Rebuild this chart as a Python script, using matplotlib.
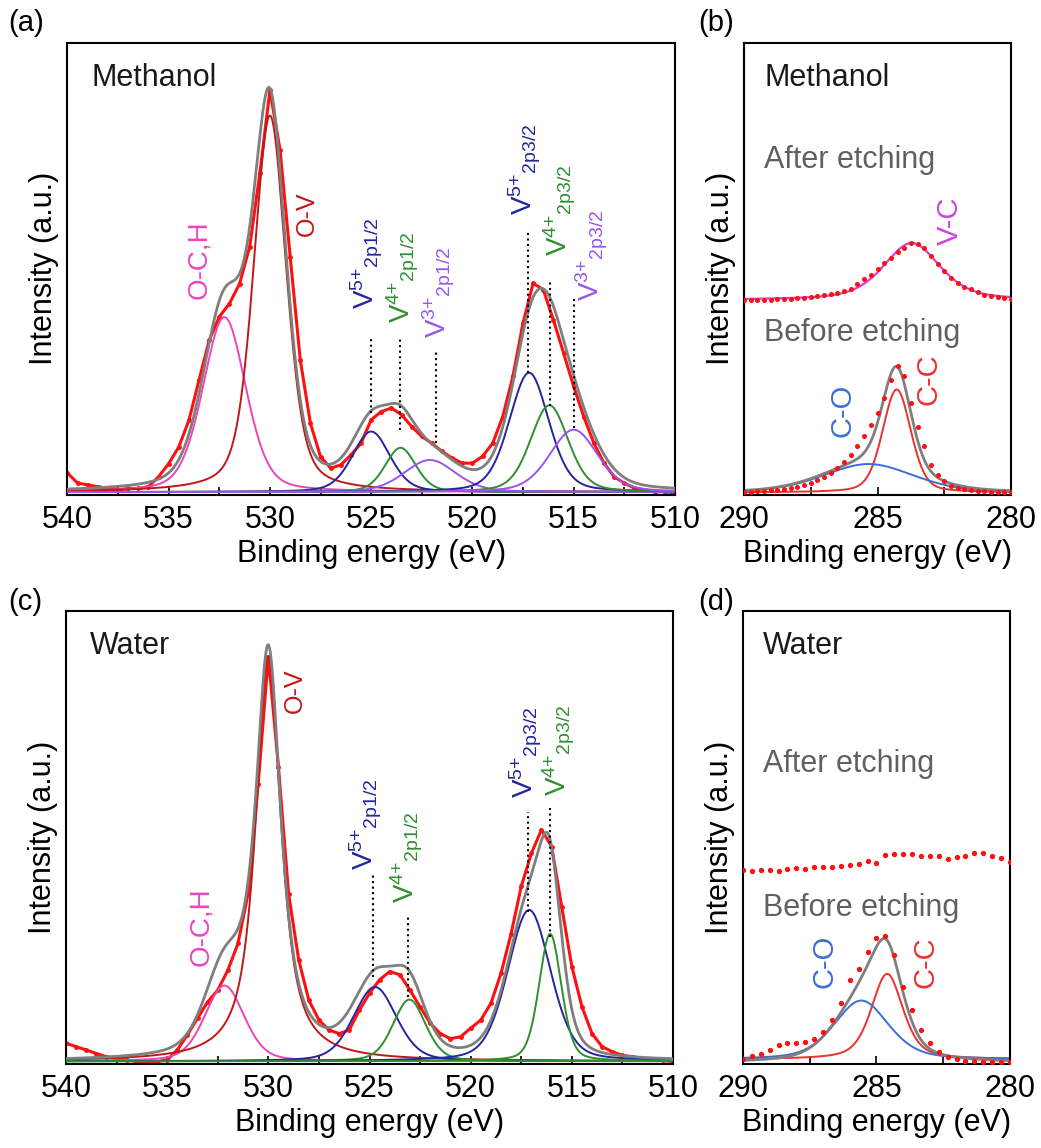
import matplotlib
matplotlib.use("Agg")
import matplotlib.pyplot as plt
import numpy as np

plt.rcParams['font.family'] = ['Liberation Sans', 'DejaVu Sans']
plt.rcParams['mathtext.default'] = 'regular'

PINK = '#EE44BB'
DARKRED = '#C01818'
BLUE = '#2424A0'
GREEN = '#2F8F2F'
PURPLE = '#9955EE'
GRAY = '#7F7F7F'
RED = '#FF1010'
CBLUE = '#3A6FD8'
CRED = '#EE3030'
VC = '#CC44DD'
TXTGRAY = '#606060'

# ---------------- (a) Methanol, O 1s / V 2p ----------------
a_energy = np.linspace(540, 510, 61)
a_counts = [4.8, 2.6, 2.2, 1.8, 1.4, 1.1, 1.4, 1.4, 1.8, 4.0,
            6.9, 10.6, 16.5, 25.4, 34.2, 39.4, 42.3, 46.7, 54.9, 71.1,
            89.5, 76.3, 52.7, 29.8, 15.8, 8.4, 5.9, 6.6, 8.8, 11.4,
            16.6, 18.4, 19.2, 17.7, 15.1, 12.9, 11.4, 9.6, 8.1, 7.0,
            7.0, 8.5, 11.4, 17.3, 26.2, 38.0, 46.8, 45.4, 38.7, 31.4,
            24.0, 17.3, 11.4, 7.0, 4.0, 2.6, 1.5, 1.1, 0.7, 0.7, 0.4]
# fitted components: O-C,H  O-V  V5+ V4+ V3+ (2p1/2)  V5+ V4+ V3+ (2p3/2)
a_center = [532.25, 530.0, 525.0, 523.55, 522.1, 517.2, 516.2, 515.0]
a_height = [38.7, 83.3, 13.4, 9.8, 7.1, 26.4, 19.2, 13.8]
a_fwhm = [2.5, 1.9, 2.2, 1.8, 3.0, 2.3, 2.2, 2.8]
a_eta = [0.3, 0.4, 0.3, 0.3, 0.3, 0.3, 0.3, 0.3]
a_color = [PINK, DARKRED, BLUE, GREEN, PURPLE, BLUE, GREEN, PURPLE]
a_marks_x = [525.0, 523.6, 521.8, 517.27, 516.15, 515.0]
a_marks_lo = [18.1, 14.4, 11.4, 26.9, 19.6, 14.7]
a_marks_hi = [35.0, 35.0, 32.1, 58.2, 47.6, 43.9]

# ---------------- (c) Water, O 1s / V 2p ----------------
c_energy = np.linspace(540, 510, 61)
c_counts = [4.6, 3.8, 3.1, 2.3, 1.6, 1.2, 0.9, 0.5, 0.5, 0.5,
            0.9, 3.1, 6.4, 10.1, 13.7, 16.3, 20.7, 26.6, 37.6, 61.9,
            89.9, 65.6, 37.6, 23.0, 14.1, 9.7, 7.5, 6.7, 7.5, 11.9,
            15.6, 18.6, 20.4, 19.7, 16.3, 12.6, 9.0, 6.7, 5.6, 6.0,
            7.9, 9.7, 13.4, 20.0, 28.8, 39.2, 46.5, 51.7, 48.0, 34.7,
            21.5, 12.6, 6.7, 3.8, 2.7, 1.9, 1.6, 1.2, 1.0, 0.8, 0.5]
# O-C,H  O-V  V5+ V4+ (2p1/2)  V5+ V4+ (2p3/2)
c_center = [532.17, 530.0, 524.73, 523.03, 517.11, 516.07]
c_height = [16.7, 89.4, 16.4, 13.6, 33.4, 28.1]
c_fwhm = [2.3, 1.5, 2.5, 1.9, 2.5, 1.3]
c_eta = [0.3, 0.85, 0.3, 0.3, 0.3, 0.3]
c_color = [PINK, DARKRED, BLUE, GREEN, BLUE, GREEN]
c_marks_x = [524.84, 523.08, 517.18, 516.07]
c_marks_lo = [19.3, 14.8, 33.6, 28.1]
c_marks_hi = [42.1, 32.9, 55.7, 56.4]

# ---------------- (b) Methanol, C 1s ----------------
b_energy = np.linspace(290, 280, 41)
b_after = [43.0, 43.0, 43.1, 43.1, 43.2, 43.3, 43.3, 43.4, 43.5, 43.6,
           43.8, 43.9, 44.1, 44.4, 44.7, 45.1, 45.6, 46.6, 47.7, 48.7,
           49.9, 51.2, 52.5, 53.8, 54.7, 55.7, 55.5, 54.5, 52.9, 51.0,
           49.5, 48.0, 46.9, 46.0, 45.5, 44.8, 44.3, 44.0, 43.8, 43.6, 43.4]
b_before = [0.7, 0.7, 0.8, 0.9, 1.0, 1.1, 1.3, 1.5, 1.7, 2.1,
            2.6, 3.2, 4.0, 4.9, 5.9, 7.3, 8.9, 10.8, 12.9, 15.4,
            18.1, 21.4, 25.5, 28.4, 26.2, 20.3, 15.1, 10.7, 6.7, 4.4,
            3.0, 2.0, 1.5, 1.2, 1.0, 0.9, 0.8, 0.7, 0.7, 0.7, 0.7]
b_vc = [283.72, 12.6, 2.5, 0.5]          # center, height, fwhm, eta
b_vc_base = 43.1
# C-C, C-O
b_center = [284.28, 285.34]
b_height = [22.8, 6.3]
b_fwhm = [1.25, 4.0]
b_eta = [0.3, 0.3]
b_color = [CRED, CBLUE]
b_base = 0.5

# ---------------- (d) Water, C 1s ----------------
d_energy = np.linspace(290, 280, 31)
d_after = [42.8, 42.6, 42.9, 42.8, 42.7, 43.0, 43.2, 43.1, 43.4, 43.5,
           43.4, 43.8, 43.9, 44.1, 44.7, 44.4, 46.2, 46.4, 46.3, 46.3,
           46.0, 45.9, 45.8, 45.3, 45.7, 46.0, 46.5, 46.6, 45.8, 45.4, 44.5]
d_before = [1.0, 1.7, 2.3, 3.0, 4.2, 4.6, 4.6, 4.9, 5.6, 7.0,
            9.6, 13.5, 18.5, 21.0, 24.8, 27.8, 28.3, 24.0, 17.0, 12.0,
            7.5, 4.6, 2.6, 1.5, 1.0, 0.7, 0.6, 0.5, 0.4, 0.4, 0.5]
d_center = [284.6, 285.57]
d_height = [18.9, 13.0]
d_fwhm = [1.4, 2.4]
d_eta = [0.5, 0.4]
d_color = [CRED, CBLUE]
d_base = 1.0
d_env_base = 0.3


def pv(x, c, h, w, eta):
    u = ((x - c) / w) ** 2
    return h * (eta / (1 + 4 * u) + (1 - eta) * np.exp(-4 * np.log(2) * u))


def style_axis(ax, lo, hi, major, minor):
    ax.set_xlim(lo, hi)
    ax.set_ylim(0, 100)
    ax.set_xticks(major)
    ax.set_xticks(minor, minor=True)
    ax.set_yticks([])
    ax.tick_params(axis='x', which='both', direction='in', length=6, width=1.2,
                   labelsize=22, pad=7, top=False)
    for s in ax.spines.values():
        s.set_linewidth(1.5)
    ax.set_xlabel('Binding energy (eV)', fontsize=22, labelpad=3)
    ax.set_ylabel('Intensity (a.u.)', fontsize=22, labelpad=6)


def vlabel(ax, x, y, s, color, size=20):
    ax.text(x, y, s, rotation=90, ha='center', va='bottom', color=color,
            fontsize=size)


def vion(charge, orbital):
    # superscript charge, then the orbital as a following subscript
    return r'V$^{%s{+}}{}_{%s}$' % (charge, orbital)


fig = plt.figure(figsize=(10.41, 11.48), dpi=100)
ax_a = fig.add_axes([0.0648, 0.569, 0.5835, 0.3937])
ax_b = fig.add_axes([0.7147, 0.569, 0.2565, 0.3937])
ax_c = fig.add_axes([0.0634, 0.0732, 0.5831, 0.3946])
ax_d = fig.add_axes([0.7137, 0.0732, 0.2565, 0.3946])

xa = np.linspace(510, 540, 1501)
xb = np.linspace(280, 290, 801)

# ---- panel (a)
ax = ax_a
ax.plot(a_energy, a_counts, color=RED, lw=2.2, marker='o', ms=2.5, zorder=2)
env = np.zeros_like(xa)
for c, h, w, e, col in zip(a_center, a_height, a_fwhm, a_eta, a_color):
    y = pv(xa, c, h, w, e)
    env += y
    ax.plot(xa, y + 0.6, color=col, lw=1.4, zorder=3)
ax.plot(xa, env + 0.6, color=GRAY, lw=2, zorder=4)
ax.vlines(a_marks_x, a_marks_lo, a_marks_hi, colors='black', linestyles=':', lw=1.5, zorder=5)
style_axis(ax, 540, 510, [540, 535, 530, 525, 520, 515, 510], [537.5, 532.5, 527.5, 522.5, 517.5, 512.5])
ax.text(0.04, 0.955, 'Methanol', transform=ax.transAxes, fontsize=22, va='top', color='#1a1a1a')
vlabel(ax, 533.5, 43.3, 'O-C,H', PINK, 20)
vlabel(ax, 528.2, 57.2, 'O-V', DARKRED, 18)
vlabel(ax, 525.2, 41.0, vion(5, '2p1/2'), BLUE)
vlabel(ax, 523.45, 38.0, vion(4, '2p1/2'), GREEN)
vlabel(ax, 521.67, 34.7, vion(3, '2p1/2'), PURPLE)
vlabel(ax, 517.4, 61.9, vion(5, '2p3/2'), BLUE)
vlabel(ax, 515.7, 52.8, vion(4, '2p3/2'), GREEN)
vlabel(ax, 514.1, 42.8, vion(3, '2p3/2'), PURPLE)

# ---- panel (c)
ax = ax_c
ax.plot(c_energy, c_counts, color=RED, lw=2.2, marker='o', ms=2.5, zorder=2)
env = np.zeros_like(xa)
for c, h, w, e, col in zip(c_center, c_height, c_fwhm, c_eta, c_color):
    y = pv(xa, c, h, w, e)
    env += y
    ax.plot(xa, y + 0.6, color=col, lw=1.4, zorder=3)
ax.plot(xa, env + 0.6, color=GRAY, lw=2, zorder=4)
ax.vlines(c_marks_x, c_marks_lo, c_marks_hi, colors='black', linestyles=':', lw=1.5, zorder=5)
style_axis(ax, 540, 510, [540, 535, 530, 525, 520, 515, 510], [537.5, 532.5, 527.5, 522.5, 517.5, 512.5])
ax.text(0.04, 0.955, 'Water', transform=ax.transAxes, fontsize=22, va='top', color='#1a1a1a')
vlabel(ax, 533.3, 21.7, 'O-C,H', PINK, 20)
vlabel(ax, 528.7, 77.4, 'O-V', DARKRED, 18)
vlabel(ax, 525.17, 42.8, vion(5, '2p1/2'), BLUE)
vlabel(ax, 523.14, 35.6, vion(4, '2p1/2'), GREEN)
vlabel(ax, 517.26, 58.8, vion(5, '2p3/2'), BLUE)
vlabel(ax, 515.63, 59.2, vion(4, '2p3/2'), GREEN)

# ---- panel (b)
ax = ax_b
ax.plot(xb, b_vc_base + pv(xb, *b_vc), color=VC, lw=1.6, zorder=2)
ax.plot(b_energy, b_after, 'o', color=RED, ms=2.6, zorder=3)
env = np.zeros_like(xb)
for c, h, w, e, col in zip(b_center, b_height, b_fwhm, b_eta, b_color):
    y = pv(xb, c, h, w, e)
    env += y
    ax.plot(xb, y + b_base, color=col, lw=1.4, zorder=2)
ax.plot(xb, env + b_base, color=GRAY, lw=2, zorder=2)
ax.plot(b_energy, b_before, 'o', color=RED, ms=2.6, zorder=3)
style_axis(ax, 290, 280, [290, 285, 280], [287.5, 282.5])
ax.text(0.075, 0.955, 'Methanol', transform=ax.transAxes, fontsize=22, va='top', color='#1a1a1a')
ax.text(0.075, 0.775, 'After etching', transform=ax.transAxes, fontsize=22, va='top', color=TXTGRAY)
ax.text(0.075, 0.392, 'Before etching', transform=ax.transAxes, fontsize=22, va='top', color=TXTGRAY)
vlabel(ax, 282.3, 55.2, 'V-C', VC, 21)
vlabel(ax, 286.3, 12.8, 'C-O', CBLUE, 21)
vlabel(ax, 283.1, 19.8, 'C-C', CRED, 21)

# ---- panel (d)
ax = ax_d
ax.plot(d_energy, d_after, 'o', color=RED, ms=2.8, zorder=3)
env = np.zeros_like(xb)
for c, h, w, e, col in zip(d_center, d_height, d_fwhm, d_eta, d_color):
    y = pv(xb, c, h, w, e)
    env += y
    ax.plot(xb, y + d_base, color=col, lw=1.4, zorder=2)
ax.plot(xb, env + d_env_base, color=GRAY, lw=2, zorder=2)
ax.plot(d_energy, d_before, 'o', color=RED, ms=2.8, zorder=3)
style_axis(ax, 290, 280, [290, 285, 280], [287.5, 282.5])
ax.text(0.075, 0.955, 'Water', transform=ax.transAxes, fontsize=22, va='top', color='#1a1a1a')
ax.text(0.075, 0.695, 'After etching', transform=ax.transAxes, fontsize=22, va='top', color=TXTGRAY)
ax.text(0.075, 0.378, 'Before etching', transform=ax.transAxes, fontsize=22, va='top', color=TXTGRAY)
vlabel(ax, 286.93, 16.7, 'C-O', CBLUE, 21)
vlabel(ax, 283.16, 16.8, 'C-C', CRED, 21)

# panel letters
for x, y, s in [(0.008, 0.992, '(a)'), (0.671, 0.992, '(b)'),
                (0.008, 0.488, '(c)'), (0.671, 0.488, '(d)')]:
    fig.text(x, y, s, fontsize=21, va='top', ha='left')

fig.savefig('out.png', dpi=100)
